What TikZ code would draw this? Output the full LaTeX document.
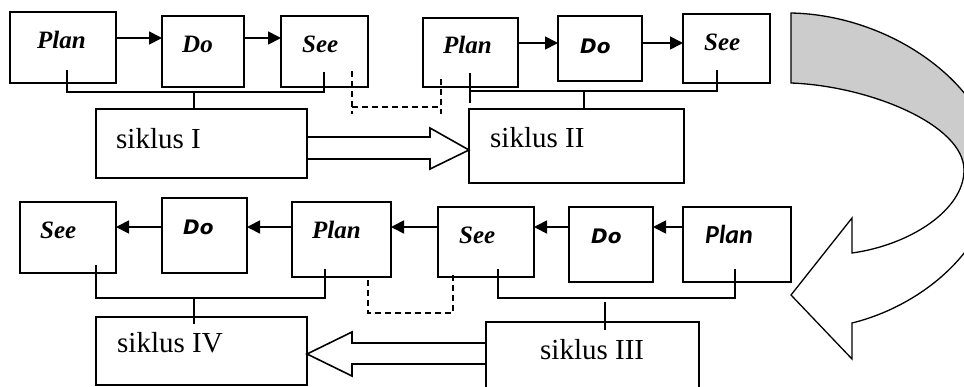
\documentclass[tikz,border=0pt]{standalone}
\usepackage{fontspec}
\setmainfont{Liberation Serif}
\newfontfamily\dvs{DejaVu Sans}
\newfontfamily\carl{Carlito}
\usetikzlibrary{arrows.meta}
\begin{document}
\begin{tikzpicture}[x=1pt,y=-1pt,
  box/.style={draw, line width=1.8pt, inner sep=0pt, outer sep=0pt},
  lbl/.style={anchor=base west, inner sep=0pt, font=\fontsize{25}{28}\selectfont\bfseries\itshape},
  slbl/.style={anchor=base west, inner sep=0pt, font=\fontsize{20}{24}\selectfont\dvs\bfseries\itshape},
  clbl/.style={anchor=base west, inner sep=0pt, font=\fontsize{26}{30}\selectfont\carl\bfseries\itshape},
  siklbl/.style={anchor=base west, inner sep=0pt, font=\fontsize{29}{33}\selectfont},
  arr/.style={line width=1.8pt, -{Triangle[length=13pt,width=13pt]}},
  conn/.style={line width=1.6pt},
  dsh/.style={line width=1.5pt, dash pattern=on 6pt off 4pt},
  blk/.style={line width=1.6pt, line join=miter},
  curv/.style={line width=1.3pt, line join=miter}]
\useasboundingbox (0,0) rectangle (964,386);
\clip (0,0) rectangle (964,386);
\fill[white] (0,0) rectangle (964,386);
% row coordinates for arrows
\coordinate (ya) at (0,38);
\coordinate (yb) at (0,43);
\coordinate (yc) at (0,227);
% ---- top left group
\node[box, minimum width=106, minimum height=71] (P1) at (63,47.5) {};
\node[box, minimum width=82, minimum height=71] (D1) at (203,51.5) {};
\node[box, minimum width=87, minimum height=71] (S1) at (324.5,51.5) {};
\node[box, minimum width=211, minimum height=69] (SI) at (201.5,143.5) {};
\node[lbl] (tP1) at (37,48) {Plan};
\node[lbl] (tD1) at (182,52) {Do};
\node[lbl] (tS1) at (302,52) {See};
\node[siklbl] (tSI) at (116,148) {siklus I};
\draw[arr] (P1.east |- ya) -- (D1.west |- ya);
\draw[arr] (D1.east |- ya) -- (S1.west |- ya);
\coordinate (b1) at (194,92);
\draw[conn] (67,70) |- (324,92) -- (324,72);
\draw[conn] (b1) -- (b1 |- SI.north);
% ---- top right group
\node[box, minimum width=95, minimum height=69] (P2) at (470.5,52.5) {};
\node[box, minimum width=84, minimum height=65] (D2) at (600,48.5) {};
\node[box, minimum width=87, minimum height=69] (S2) at (726.5,48.5) {};
\node[box, minimum width=215, minimum height=74] (SII) at (576.5,146) {};
\node[lbl] (tP2) at (443,53) {Plan};
\node[slbl] (tD2) at (580,53) {Do};
\node[lbl] (tS2) at (704,50) {See};
\node[siklbl] (tSII) at (490,147) {siklus II};
\draw[arr] (P2.east |- yb) -- (D2.west |- yb);
\draw[arr] (D2.east |- yb) -- (S2.west |- yb);
\coordinate (b2) at (584,91);
\draw[conn] (470,73) -- (470,103);
\draw[conn] (470,91) -- (717,91) -- (717,70);
\draw[conn] (b2) -- (b2 |- SII.north);
% dashed link S1 - P2
\draw[dsh] (352,71) -- (352,114);
\draw[dsh] (441,79) -- (441,114);
\draw[dsh] (352,107) -- (441,107);
% block arrow siklus I -> siklus II
\draw[blk] (SI.east |- 0,137) -- (430,137) -- (430,128) -- (SII.west |- 0,150) -- (430,169) -- (430,159) -- (SI.east |- 0,159);
% ---- bottom right group
\node[box, minimum width=96, minimum height=70] (S3) at (486,242) {};
\node[box, minimum width=84, minimum height=75] (D3) at (611,244.5) {};
\node[box, minimum width=108, minimum height=75] (P3) at (737,244.5) {};
\node[box, minimum width=213, minimum height=78] (SIII) at (592.5,361) {};
\node[lbl] (tS3) at (459,243) {See};
\node[slbl] (tD3) at (591,243) {Do};
\node[clbl] (tP3) at (705,243) {Plan};
\node[siklbl] (tSIII) at (540,359) {siklus III};
\draw[arr] (P3.west |- yc) -- (D3.east |- yc);
\draw[arr] (D3.west |- yc) -- (S3.east |- yc);
\draw[conn] (498,269) |- (735,298) -- (735,269);
\coordinate (b3) at (605,302);
\draw[conn] (b3) -- (605,330);
% ---- bottom left group
\node[box, minimum width=96, minimum height=71] (S4) at (68,237.5) {};
\node[box, minimum width=85, minimum height=75] (D4) at (204.5,235.5) {};
\node[box, minimum width=99, minimum height=75] (P4) at (341.5,239.5) {};
\node[box, minimum width=211, minimum height=68] (SIV) at (201.5,351) {};
\node[lbl] (tS4) at (40,238) {See};
\node[slbl] (tD4) at (183,234) {Do};
\node[lbl] (tP4) at (312,238) {Plan};
\node[siklbl] (tSIV) at (117,352) {siklus IV};
\draw[arr] (S3.west |- yc) -- (P4.east |- yc);
\draw[arr] (P4.west |- yc) -- (D4.east |- yc);
\draw[arr] (D4.west |- yc) -- (S4.east |- yc);
\draw[conn] (96,265) |- (325,298) -- (325,269);
\coordinate (b4) at (194,298);
\draw[conn] (b4) -- (194,324);
% dashed link P4 - S3
\draw[dsh] (368,280) |- (453,313) -- (453,274);
% block arrow siklus III -> siklus IV
\draw[blk] (SIII.west |- 0,343) -- (352,343) -- (352,332) -- (SIV.east |- 0,354) -- (352,376) -- (352,364) -- (SIII.west |- 0,364);
% ---- curved arrow
\filldraw[fill=gray!40, curv] (791,13) .. controls (895,15) and (995,90) .. (995,170)
   -- (964,170) .. controls (964,125) and (870,86) .. (791,83) -- cycle;
\draw[curv] (964,170) .. controls (964,210) and (910,245) .. (852,253)
   -- (852,218) -- (791,295) -- (852,359) -- (852,323)
   .. controls (925,305) and (995,245) .. (995,170);
\end{tikzpicture}
\end{document}
